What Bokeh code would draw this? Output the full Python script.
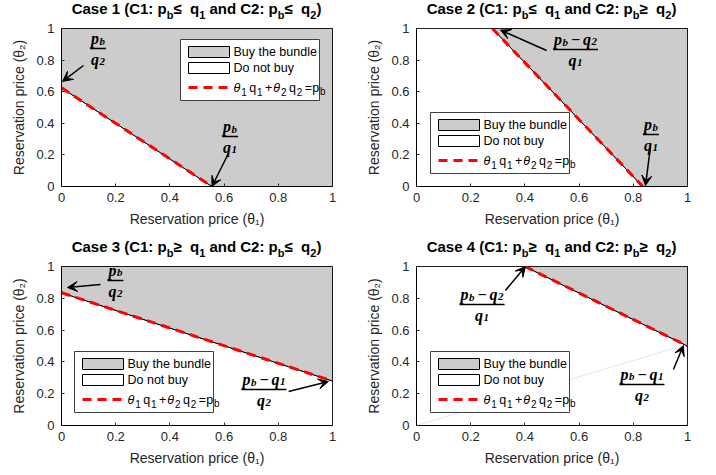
from bokeh.plotting import figure
from bokeh.models import (Range1d, FixedTicker, Arrow, VeeHead, ColumnDataSource, Div)
from bokeh.layouts import column, row
from bokeh.embed import file_html
from bokeh.resources import INLINE
from bokeh.core.properties import value

# ---------------- data ----------------
case_numbers = [1, 2, 3, 4]
c1_relation = ["≤", "≤", "≥", "≥"]
c2_relation = ["≤", "≥", "≤", "≥"]
# boundary θ1 q1 + θ2 q2 = pb : its two end points inside the unit square
boundary_theta1_start = [0.0, 0.28, 0.0, 0.40]
boundary_theta2_start = [0.625, 1.0, 0.835, 1.0]
boundary_theta1_end = [0.555, 0.835, 1.0, 1.0]
boundary_theta2_end = [0.0, 0.0, 0.28, 0.50]
tick_values = [0, 0.2, 0.4, 0.6, 0.8, 1]
tick_labels = ["0", "0.2", "0.4", "0.6", "0.8", "1"]
region_labels = ["Buy the bundle", "Do not buy"]
x_label = "Reservation price (θ₁)"
y_label = "Reservation price (θ₂)"

# fraction annotations (tokens: m = main, s = subscript, o = operator)
PB = [("p", "m"), ("b", "s")]
PB_Q2 = PB + [("−", "o"), ("q", "m"), ("2", "s")]
PB_Q1 = PB + [("−", "o"), ("q", "m"), ("1", "s")]
Q1 = [("q", "m"), ("1", "s")]
Q2 = [("q", "m"), ("2", "s")]
start_fraction = [(PB, Q2), (PB_Q2, Q1), (PB, Q2), (PB_Q2, Q1)]
end_fraction = [(PB, Q1), (PB, Q1), (PB_Q1, Q2), (PB_Q1, Q2)]
# legend equation θ1 q1 + θ2 q2 = pb  (i = italic, m = main, s = subscript)
legend_eq = [("θ", "i"), ("1", "s"), ("q", "m"), ("1", "s"), ("+", "m"), ("θ", "i"),
             ("2", "s"), ("q", "m"), ("2", "s"), ("=p", "m"), ("b", "s")]

# ---------------- layout / style ----------------
FW = 271
FH = [158, 158, 159, 159]
BORDERS = [  # left, right, top, bottom
    (61, 26, 6, 51), (58, 27, 6, 51), (61, 26, 7, 48), (58, 27, 7, 48)]
TITLE_PAD = [0, 0, 1, 1]
DIV_H = 22
LEGEND_LOC = [(119, 86), (14, 13), (13, 13), (14, 13)]   # px from frame bottom-left
LEG_W, LEG_H = 139, 61
# annotation placement: (label centre, arrow tail, arrow tip offset from the boundary point)
ANN_START = [((0.135, 0.873), (0.081, 0.766), (0.004, 0.040)),
             ((0.587, 0.867), (0.480, 0.861), (0.030, -0.010)),
             ((0.199, 0.912), (0.144, 0.887), (0.022, 0.033)),
             ((0.242, 0.761), (0.328, 0.849), (0.002, 0.000))]
ANN_END = [((0.622, 0.316), (0.616, 0.209), (0.000, 0.000)),
           ((0.865, 0.329), (0.863, 0.247), (0.010, 0.006)),
           ((0.747, 0.226), (0.838, 0.214), (-0.015, -0.003)),
           ((0.832, 0.258), (0.948, 0.352), (-0.015, 0.003))]
GRAY = "#cccccc"
AX_COL = "#262626"
SANS = "Liberation Sans"
SERIF = "Liberation Serif"
NUM_BASE = -10
DEN_BASE = 11
W_REG = {'θ': 556, 'q': 556, '+': 584, '=': 584, 'p': 556, 'b': 556, '1': 556, '2': 556}


def clip(poly, a, b, sign):
    def f(pt):
        return sign * ((b[0] - a[0]) * (pt[1] - a[1]) - (b[1] - a[1]) * (pt[0] - a[0]))
    out = []
    n = len(poly)
    for k in range(n):
        P, Q = poly[k], poly[(k + 1) % n]
        fp, fq = f(P), f(Q)
        if fp >= -1e-12:
            out.append(P)
        if (fp > 1e-12 and fq < -1e-12) or (fp < -1e-12 and fq > 1e-12):
            t = fp / (fp - fq)
            out.append((P[0] + t * (Q[0] - P[0]), P[1] + t * (Q[1] - P[1])))
    return out


def sub(t):
    return f'<span style="font-size:11px;position:relative;top:5px">{t}</span>'


def make_title(i):
    L = BORDERS[i][0]
    html = (f'<div style="margin-left:{L}px;width:{FW}px;text-align:center;white-space:nowrap;'
            f"font-family:'{SANS}',Arial,sans-serif;font-weight:bold;font-size:15px;"
            f'line-height:18px;color:black;padding-top:{TITLE_PAD[i]}px">'
            f'Case {case_numbers[i]} (C1: p{sub("b")}{c1_relation[i]}&nbsp; q{sub("1")} '
            f'and C2: p{sub("b")}{c2_relation[i]}&nbsp; q{sub("2")})</div>')
    return Div(text=html, width=L + FW + BORDERS[i][1], height=DIV_H, margin=0)


def add_legend(p, lx, ly, fh, buy_r, nobuy_r):
    def X(px):
        return px / FW

    def Y(py):
        return py / fh
    p.rect(x=[X(lx + LEG_W / 2)], y=[Y(ly + LEG_H / 2)], width=[LEG_W], height=[LEG_H],
           width_units="screen", height_units="screen", fill_color="white",
           line_color="#404040", line_width=1)
    p.rect(x=[X(lx + 8 + 20.5)] * 2, y=[Y(ly + 48.5), Y(ly + 32.5)], width=[41, 41],
           height=[11, 11], width_units="screen", height_units="screen",
           fill_color=[buy_r.glyph.fill_color, nobuy_r.glyph.fill_color],
           line_color="black", line_width=1)
    p.line([X(lx + 8), X(lx + 49)], [Y(ly + 13)] * 2, line_color="red", line_width=3,
           line_dash="9 6")
    data = dict(x=[], y=[], text=[], xo=[], yo=[], fs=[], st=[])
    for lab, yy in zip(region_labels, (48.5, 32.5)):
        data["x"].append(X(lx + 53))
        data["y"].append(Y(ly + yy))
        data["text"].append(lab)
        data["xo"].append(0)
        data["yo"].append(0)
        data["fs"].append("12.5px")
        data["st"].append("normal")
    x = 0
    for t, k in legend_eq:
        fs = 10 if k == "s" else 12.5
        data["x"].append(X(lx + 53))
        data["y"].append(Y(ly + 13))
        data["text"].append(t)
        data["xo"].append(x)
        data["yo"].append(4 if k == "s" else 0)
        data["fs"].append(f"{fs}px")
        data["st"].append("italic" if k == "i" else "normal")
        x += sum(W_REG[c] for c in t) * fs / 1000 + (2.5 if k == "s" else 0.8)
    p.text(x="x", y="y", text="text", x_offset="xo", y_offset="yo", text_font_size="fs",
           text_font_style="st", source=ColumnDataSource(data), text_font=value(SANS),
           text_align="left", text_baseline="middle", text_color="black")


def layout_tokens(tokens):
    out = []
    x = 0.0
    for t, k in tokens:
        if k == "m":
            out.append((t, x, 16, 0))
            x += 8.5
        elif k == "s":
            out.append((t, x, 11, 2))
            x += 5.5
        else:
            out.append((t, x + 3, 16, 0))
            x += 15
    return out, x


def add_fraction(p, cx, cy, num, den):
    data = dict(x=[], y=[], text=[], xo=[], yo=[], fs=[])
    nl, nw = layout_tokens(num)
    dl, dw = layout_tokens(den)
    for lay, w, base in ((nl, nw, NUM_BASE), (dl, dw, DEN_BASE)):
        for t, xx, fs, dy in lay:
            data["x"].append(cx)
            data["y"].append(cy)
            data["text"].append(t)
            data["xo"].append(xx - w / 2)
            data["yo"].append(base + dy)
            data["fs"].append(f"{fs}px")
    p.text(x="x", y="y", text="text", x_offset="xo", y_offset="yo", text_font_size="fs",
           source=ColumnDataSource(data), text_font=value(SERIF),
           text_font_style="bold italic", text_align="left", text_baseline="alphabetic",
           text_color="black")
    p.rect(x=[cx], y=[cy], width=[max(nw, dw) + 2], height=[1.4], width_units="screen",
           height_units="screen", fill_color="black", line_color=None)


def make_panel(i):
    L, R, T, B = BORDERS[i]
    fh = FH[i]
    p = figure(frame_width=FW, frame_height=fh, x_range=Range1d(0, 1), y_range=Range1d(0, 1),
               output_backend="svg", toolbar_location=None, min_border_left=L,
               min_border_right=R, min_border_top=T, min_border_bottom=B,
               background_fill_color="white", border_fill_color="white")
    p.grid.visible = False
    p.outline_line_color = "black"
    p.outline_line_width = 1
    for ax in (p.xaxis[0], p.yaxis[0]):
        ax.ticker = FixedTicker(ticks=tick_values)
        ax.major_label_overrides = dict(zip(tick_values, tick_labels))
        ax.major_label_text_font = SANS
        ax.major_label_text_font_size = "13px"
        ax.major_label_text_color = AX_COL
        ax.axis_label_text_font = SANS
        ax.axis_label_text_font_size = "14px"
        ax.axis_label_text_font_style = "normal"
        ax.axis_label_text_color = AX_COL
        ax.major_tick_in = 3
        ax.major_tick_out = 0
        ax.major_tick_line_color = AX_COL
        ax.minor_tick_line_color = None
        ax.axis_line_color = "black"
        ax.axis_label_standoff = 6
    p.xaxis[0].major_label_standoff = 6
    p.yaxis[0].major_label_standoff = 7
    p.xaxis[0].axis_label = x_label
    p.yaxis[0].axis_label = y_label

    a = (boundary_theta1_start[i], boundary_theta2_start[i])
    b = (boundary_theta1_end[i], boundary_theta2_end[i])
    square = [(0, 0), (1, 0), (1, 1), (0, 1)]
    s = 1 if ((b[0] - a[0]) * (1 - a[1]) - (b[1] - a[1]) * (1 - a[0])) > 0 else -1
    buy_poly = clip(square, a, b, s)
    no_poly = clip(square, a, b, -s)
    nobuy = p.patch([q[0] for q in no_poly], [q[1] for q in no_poly], fill_color="white",
                    line_color="black", line_width=1)
    buy = p.patch([q[0] for q in buy_poly], [q[1] for q in buy_poly], fill_color=GRAY,
                  line_color="black", line_width=1)
    if i == 3:
        tip = (b[0] + ANN_END[i][2][0], b[1] + ANN_END[i][2][1])
        p.line([0, tip[0]], [0, tip[1]], line_color="#e6e6e6", line_width=1)
    p.line([a[0], b[0]], [a[1], b[1]], line_color="red", line_width=3, line_dash="9 6")

    lx, ly = LEGEND_LOC[i]
    add_legend(p, lx, ly, fh, buy, nobuy)

    for (num, den), ann, pt in ((start_fraction[i], ANN_START[i], a),
                                (end_fraction[i], ANN_END[i], b)):
        (cx, cy), tail, d = ann
        add_fraction(p, cx, cy, num, den)
        p.add_layout(Arrow(end=VeeHead(size=10, fill_color="black", line_color="black",
                                       line_width=1),
                           x_start=tail[0], y_start=tail[1],
                           x_end=pt[0] + d[0], y_end=pt[1] + d[1],
                           line_color="black", line_width=1.5))
    return column(make_title(i), p, spacing=0)


panels = [make_panel(i) for i in range(4)]
layout = column(row(panels[0], panels[1], spacing=0), row(panels[2], panels[3], spacing=0),
                spacing=0)
open("out.html", "w").write(file_html(layout, INLINE))
